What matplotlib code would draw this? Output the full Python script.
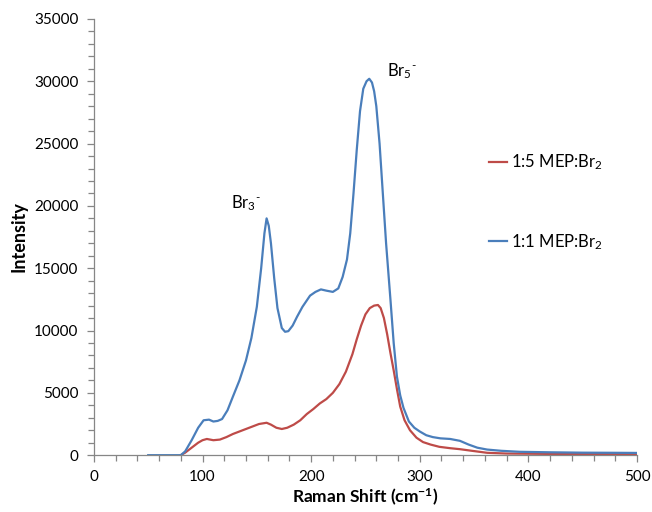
import matplotlib
matplotlib.use("Agg")
import matplotlib.pyplot as plt
from matplotlib.ticker import MultipleLocator

plt.rcParams['font.family'] = ['Lato', 'DejaVu Sans']
plt.rcParams['mathtext.fontset'] = 'custom'
plt.rcParams['mathtext.rm'] = 'Lato'
plt.rcParams['mathtext.it'] = 'Lato'
plt.rcParams['mathtext.bf'] = 'Lato:bold'

# Raman spectra (shift in cm-1, intensity)
shift_11 = [50, 80, 84, 90, 96, 101, 106, 110, 114, 118, 123, 128, 134, 140, 145, 150,
            154, 157, 159, 161, 163, 166, 169, 173, 176, 179, 183, 187, 192, 199, 204,
            209, 214, 220, 225, 229, 233, 236, 239, 242, 245, 248, 251, 253.5, 256,
            258, 260, 263, 266, 269, 273, 276, 279, 282, 285, 290, 295, 300, 306,
            312, 319, 328, 337, 345, 353, 362, 375, 392, 420, 450, 480, 500]
int_11 = [0, 0, 300, 1200, 2200, 2800, 2850, 2700, 2750, 2900, 3600, 4700, 6000, 7600,
          9400, 11900, 15000, 17800, 19000, 18400, 17000, 14200, 11800, 10200, 9900,
          9950, 10400, 11100, 11900, 12800, 13100, 13300, 13200, 13100, 13380, 14300,
          15700, 17800, 21000, 24500, 27600, 29400, 30000, 30200, 29900, 29200, 28000,
          25000, 21000, 17000, 12500, 9000, 6300, 4800, 3800, 2700, 2200, 1900, 1600,
          1450, 1350, 1300, 1150, 850, 600, 450, 350, 270, 230, 200, 190, 180]

shift_15 = [80, 84, 90, 96, 100, 104, 110, 116, 122, 128, 134, 140, 146, 152, 159,
            163, 168, 173, 178, 184, 190, 196, 202, 208, 214, 220, 226, 232, 238, 242,
            246, 250, 254, 258, 261.5, 264, 267, 270, 273, 276, 279, 282, 286, 291,
            297, 303, 310, 318, 328, 337, 348, 362, 380, 420, 460, 500]
int_15 = [0, 200, 600, 1000, 1200, 1300, 1200, 1250, 1450, 1700, 1900, 2100, 2300,
          2500, 2600, 2450, 2200, 2100, 2200, 2450, 2800, 3300, 3700, 4150, 4500, 5000,
          5700, 6700, 8100, 9300, 10400, 11300, 11800, 12000, 12050, 11800, 11000,
          9700, 8200, 6800, 5300, 3900, 2800, 2000, 1400, 1050, 850, 670, 560, 480,
          350, 190, 130, 100, 90, 80]

labels = ['1:5 MEP:Br$_2$', '1:1 MEP:Br$_2$']
colors = ['#BE4B48', '#4A7EBB']

fig = plt.figure(figsize=(6.52, 5.12), dpi=100)
ax = fig.add_axes([0.144, 0.111, 0.833, 0.852])

l15, = ax.plot(shift_15, int_15, color=colors[0], lw=1.6, label=labels[0])
l11, = ax.plot(shift_11, int_11, color=colors[1], lw=1.6, label=labels[1])

ax.text(140, 20200, r'Br$_3{}^{\text{-}}$', fontsize=12, ha='center', va='center')
ax.text(284, 30800, r'Br$_5{}^{\text{-}}$', fontsize=12, ha='center', va='center')

ax.set_xlim(0, 500)
ax.set_ylim(0, 35000)
ax.xaxis.set_major_locator(MultipleLocator(100))
ax.xaxis.set_minor_locator(MultipleLocator(20))
ax.yaxis.set_major_locator(MultipleLocator(5000))
ax.yaxis.set_minor_locator(MultipleLocator(1000))

for s in ['top', 'right']:
    ax.spines[s].set_visible(False)
for s in ['left', 'bottom']:
    ax.spines[s].set_color('#868686')
    ax.spines[s].set_linewidth(0.9)
ax.tick_params(which='both', direction='out', color='#868686', width=0.9)
ax.tick_params(which='major', length=5, labelsize=11, pad=6)
ax.tick_params(which='minor', length=4)

ax.set_xlabel(r'Raman Shift (cm$^{\mathbf{-1}}$)', fontsize=12.5, fontweight='bold',
              labelpad=2)
ax.set_ylabel('Intensity', fontsize=13, fontweight='bold', labelpad=5)

ax.legend(handles=[l15, l11], loc='upper left', bbox_to_anchor=(0.7, 0.728),
          frameon=False, fontsize=12, handlelength=1.1, handletextpad=0.2,
          labelspacing=3.6)

fig.savefig('out.png', dpi=100)
